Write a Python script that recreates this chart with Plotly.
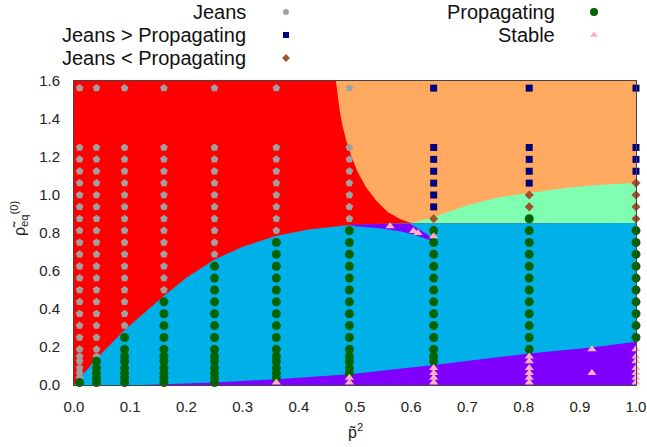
import plotly.graph_objects as go

# ---------------- data ----------------
p2_cols = [0.01, 0.04, 0.09, 0.16, 0.25, 0.36, 0.49, 0.64, 0.81, 1.0]
rho_levels = [0.0125, 0.0375, 0.0625, 0.09, 0.125, 0.15, 0.1875, 0.25, 0.3125,
              0.375, 0.4375, 0.5, 0.5625, 0.625, 0.6875, 0.75, 0.8125, 0.875,
              0.9375, 1.0, 1.0625, 1.125, 1.1875, 1.25, 1.5625]
# one letter per rho level (bottom -> top):
# P = Propagating, J = Jeans, G = Jeans > Propagating, L = Jeans < Propagating, S = Stable
col_classes = [
    "PJJJJJJJJJJJJJJJJJJJJJJJJ",  # 0.01
    "PPPPPJJJJJJJJJJJJJJJJJJJJ",  # 0.04
    "PPPPPPPPJJJJJJJJJJJJJJJJJ",  # 0.09
    "PPPPPPPPPPPJJJJJJJJJJJJJJ",  # 0.16
    "PPPPPPPPPPPPPPJJJJJJJJJJJ",  # 0.25
    "SPPPPPPPPPPPPPPPJJJJJJJJJ",  # 0.36
    "SSPPPPPPPPPPPPPPPJJJJJJJJ",  # 0.49
    "SSSSPPPPPPPPPPPPPLGGGGGGG",  # 0.64
    "SSSSSSPPPPPPPPPPPPLLGGGGG",  # 0.81
    "SSSSSSSPPPPPPPPPPLLLLGGGG",  # 1.0
]
extra_stable_p2 = [0.5625, 0.604, 0.612, 0.64, 0.9216, 0.9216]
extra_stable_rho = [0.835, 0.81, 0.80, 0.783, 0.1875, 0.0625]

# region boundaries
jp_p2 = [0.0, 0.01, 0.04, 0.09, 0.16, 0.20, 0.25, 0.30, 0.36, 0.42, 0.49, 0.55, 0.601]
jp_rho = [0.0, 0.035, 0.14, 0.29, 0.47, 0.565, 0.66, 0.728, 0.785, 0.82, 0.842, 0.849, 0.851]
jo_p2 = [0.466, 0.469, 0.473, 0.478, 0.485, 0.494, 0.505, 0.52, 0.538, 0.558, 0.58, 0.601]
jo_rho = [1.6, 1.52, 1.44, 1.36, 1.28, 1.20, 1.12, 1.04, 0.97, 0.91, 0.874, 0.851]
lg_p2 = [0.601, 0.64, 0.699, 0.758, 0.81, 0.877, 0.936, 1.0]
lg_rho = [0.852, 0.884, 0.945, 0.989, 1.01, 1.038, 1.054, 1.063]
prop_top_rho = 0.853
st_p2 = [0.12, 0.19, 0.25, 0.36, 0.49, 0.64, 0.81, 0.92, 1.0]
st_rho = [0.0, 0.005, 0.013, 0.03, 0.056, 0.105, 0.166, 0.198, 0.227]
sl_top_p2 = [0.49, 0.544, 0.598, 0.625, 0.648]
sl_top_rho = [0.843, 0.848, 0.849, 0.80, 0.747]
sl_bot_p2 = [0.648, 0.633, 0.607, 0.58, 0.544, 0.5, 0.49]
sl_bot_rho = [0.747, 0.764, 0.79, 0.809, 0.825, 0.835, 0.842]

C_RED = "#ff0000"
C_ORANGE = "#ffaa60"
C_LGREEN = "#80ffb0"
C_CYAN = "#00b0e8"
C_PURPLE = "#8000ff"

FONT = "Liberation Sans"

fig = go.Figure()


def region(xs, ys, color):
    fig.add_trace(go.Scatter(x=xs, y=ys, mode="lines", fill="toself",
                             fillcolor=color, line=dict(width=0, color=color),
                             hoverinfo="skip", showlegend=False))


# Jeans background
region([0, 1, 1, 0], [0, 0, 1.6, 1.6], C_RED)
# Jeans > Propagating
region(jo_p2 + [1.0, 1.0], jo_rho + [prop_top_rho, 1.6], C_ORANGE)
# Jeans < Propagating
region(lg_p2 + [1.0, lg_p2[0]], lg_rho + [prop_top_rho, prop_top_rho], C_LGREEN)
# Propagating
region(jp_p2 + [1.0, 1.0], jp_rho + [prop_top_rho, 0.0], C_CYAN)
# Stable (bottom wedge)
region(st_p2 + [1.0], st_rho + [0.0], C_PURPLE)
# Stable sliver
region(sl_top_p2 + sl_bot_p2, sl_top_rho + sl_bot_rho, C_PURPLE)

styles = {
    "J": dict(symbol="pentagon", color="#a0a0a0", size=8),
    "G": dict(symbol="square", color="#00007f", size=7),
    "L": dict(symbol="diamond", color="#a0522d", size=7),
    "P": dict(symbol="circle", color="#006400", size=9),
    "S": dict(symbol="triangle-up", color="#ffb0c0", size=8),
}

pts = {k: ([], []) for k in styles}
for xv, cls in zip(p2_cols, col_classes):
    assert len(cls) == len(rho_levels)
    for yv, c in zip(rho_levels, cls):
        pts[c][0].append(xv)
        pts[c][1].append(yv)
pts["S"][0].extend(extra_stable_p2)
pts["S"][1].extend(extra_stable_rho)

for k in ["J", "G", "L", "P", "S"]:
    st = styles[k]
    fig.add_trace(go.Scatter(x=pts[k][0], y=pts[k][1], mode="markers",
                             marker=dict(symbol=st["symbol"], color=st["color"],
                                         size=st["size"], line=dict(width=0)),
                             cliponaxis=False, showlegend=False))

# -------- custom legend (text right-aligned, symbol on the right) --------
legend_items = [
    ("Jeans", "J", 248, 286, 12),
    ("Jeans > Propagating", "G", 248, 286, 35),
    ("Jeans < Propagating", "L", 248, 286, 58),
    ("Propagating", "P", 557, 594, 12),
    ("Stable", "S", 557, 594, 35),
]
for label, k, tx, mx, ry in legend_items:
    st = styles[k]
    fig.add_trace(go.Scatter(x=[mx], y=[ry], xaxis="x2", yaxis="y2", mode="markers",
                             marker=dict(symbol=st["symbol"], color=st["color"],
                                         size=st["size"] - 1, line=dict(width=0)),
                             cliponaxis=False, showlegend=False))
    fig.add_annotation(x=tx, y=ry, xref="x2", yref="y2", text=label, showarrow=False,
                       xanchor="right", yanchor="middle",
                       font=dict(family=FONT, size=20, color="#111"))

axis_common = dict(showgrid=False, zeroline=False, showline=True, mirror=True,
                   linecolor="#444", linewidth=1, ticks="", automargin=False,
                   tickfont=dict(family=FONT, size=15, color="#222"))

fig.update_layout(
    width=647, height=447,
    margin=dict(l=74, r=11, t=0, b=62, pad=0, autoexpand=False),
    paper_bgcolor="white", plot_bgcolor="white",
    xaxis=dict(range=[0, 1], dtick=0.1, tickformat=".1f", ticklabelstandoff=8,
               domain=[0, 1], **axis_common),
    yaxis=dict(range=[0, 1.6], dtick=0.2, tickformat=".1f", ticklabelstandoff=10,
               domain=[0, 0.7896], **axis_common),
    xaxis2=dict(range=[74, 636], domain=[0, 1], anchor="y2", visible=False),
    yaxis2=dict(range=[77, 0], domain=[0.8, 1.0], anchor="x2", visible=False),
    showlegend=False,
)

fig.add_annotation(x=0.5, y=(385 - 431) / 385, xref="paper", yref="paper",
                   xanchor="center", yanchor="middle",
                   text="p\u0303<sup>2</sup>", showarrow=False,
                   font=dict(family=FONT, size=16, color="#222"))
fig.add_annotation(x=(19 - 74) / 562, y=(385 - 218) / 385, xref="paper", yref="paper",
                   xanchor="center", yanchor="middle",
                   text="\u03c1\u0303<sub>eq</sub><sup>(0)</sup>", showarrow=False,
                   textangle=-90, font=dict(family=FONT, size=16, color="#222"))

fig.write_html("out.html",
               config={"displayModeBar": False},
               post_script="document.body.style.margin='0';"
                           "document.body.style.overflow='hidden';")
